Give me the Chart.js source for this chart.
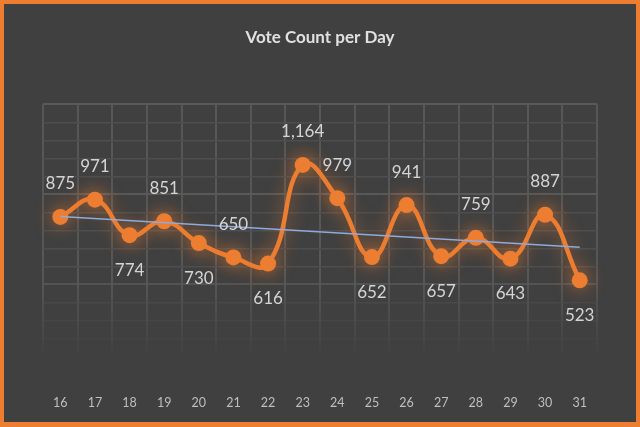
<!DOCTYPE html>
<html>
<head>
<meta charset="utf-8">
<script src="https://cdn.jsdelivr.net/npm/chart.js@4/dist/chart.umd.min.js"></script>
<style>
    html, body { margin: 0; padding: 0; background: #404040; }
    #frame {
        width: 632px; height: 418px;
        border: 4px solid #ed7d31; border-bottom-width: 5px;
        background: #404040;
    }
</style>
</head>
<body>
<div id="frame"><canvas id="chart1" width="632" height="418"></canvas></div>
<script>
// Dias e votos
const dias = ['16', '17', '18', '19', '20', '21', '22', '23', '24', '25', '26', '27', '28', '29', '30', '31'];
const votos = [875, 971, 774, 851, 730, 650, 616, 1164, 979, 652, 941, 657, 759, 643, 887, 523];
// linha de tendência: só início e fim
const tendencia = [878, null, null, null, null, null, null, null, null, null, null, null, null, null, null, 706];
// lado do rótulo de cada ponto (acima / abaixo)
const ladoRotulo = ['up', 'up', 'down', 'up', 'down', 'up', 'down', 'up', 'up', 'down', 'up', 'down', 'up', 'down', 'up', 'down'];

const laranja = '#ed7d31';

// brilho laranja em volta da linha principal
const glowPlugin = {
    id: 'glow',
    beforeDatasetDraw(chart, args) {
        if (args.index !== 1) return;
        chart.ctx.save();
        chart.ctx.shadowColor = 'rgba(237, 125, 49, 0.7)';
        chart.ctx.shadowBlur = 18;
    },
    afterDatasetDraw(chart, args) {
        if (args.index !== 1) return;
        chart.ctx.restore();
    }
};

// rótulos de valor
const rotulosPlugin = {
    id: 'rotulos',
    afterDatasetsDraw(chart) {
        const ctx = chart.ctx;
        const meta = chart.getDatasetMeta(1);
        ctx.save();
        ctx.font = '17px Lato, "Open Sans", sans-serif';
        ctx.fillStyle = '#d4d4d4';
        ctx.textAlign = 'center';
        ctx.textBaseline = 'middle';
        meta.data.forEach(function (pt, i) {
            const dy = ladoRotulo[i] === 'up' ? -33 : 35;
            ctx.fillText(votos[i].toLocaleString('en-US'), pt.x, pt.y + dy);
        });
        ctx.restore();
    }
};

const ctx = document.getElementById('chart1').getContext('2d');

function gradVertical(chart, cor) {
    const area = chart.chartArea;
    if (!area) return cor;
    const g = chart.ctx.createLinearGradient(0, area.top, 0, area.bottom);
    g.addColorStop(0, cor);
    g.addColorStop(0.65, cor);
    g.addColorStop(0.95, 'rgba(85, 85, 85, 0)');
    g.addColorStop(1, 'rgba(85, 85, 85, 0)');
    return g;
}

const chart = new Chart(ctx, {
    type: 'line',
    data: {
        labels: dias,
        datasets: [
            {
                label: 'Tendência',
                data: tendencia,
                borderColor: '#8faadc',
                borderWidth: 1.5,
                pointRadius: 0,
                spanGaps: true,
                tension: 0
            },
            {
                label: 'Votos',
                data: votos,
                borderColor: laranja,
                backgroundColor: laranja,
                borderWidth: 4.5,
                pointRadius: 8,
                pointBackgroundColor: laranja,
                pointBorderWidth: 0,
                tension: 0.45,
                cubicInterpolationMode: 'default'
            }
        ]
    },
    options: {
        responsive: false,
        animation: false,
        events: [],
        layout: { padding: { left: 39, right: 39, top: 0, bottom: 0 } },
        plugins: {
            legend: { display: false },
            tooltip: { enabled: false },
            title: {
                display: true,
                text: 'Vote Count per Day',
                color: '#e0e0e0',
                font: { family: 'Lato, "Open Sans", sans-serif', size: 17, weight: 'bold' },
                padding: { top: 23, bottom: 57 }
            }
        },
        scales: {
            x: {
                offset: true,
                border: { display: false },
                grid: {
                    offset: true,
                    drawTicks: false,
                    lineWidth: 2,
                    color: function (c) { return gradVertical(c.chart, '#575757'); }
                },
                ticks: {
                    color: '#bfbfbf',
                    padding: 21,
                    font: { family: 'Lato, "Open Sans", sans-serif', size: 12.5 }
                },
                afterFit: function (scale) { scale.height = 47.5; }
            },
            y: {
                min: 0,
                max: 1500,
                border: { display: false },
                grid: {
                    drawTicks: false,
                    lineWidth: function (c) { return c.tick && c.tick.value % 500 === 0 ? 2 : 1.5; },
                    color: function (c) {
                        const v = c.tick ? c.tick.value : 0;
                        const a = v >= 600 ? 1 : Math.max(0, (v - 80) / 520);
                        const base = v % 500 === 0 ? '89, 89, 89' : '78, 78, 78';
                        return 'rgba(' + base + ',' + a.toFixed(2) + ')';
                    }
                },
                ticks: { display: false, stepSize: 100 }
            }
        }
    },
    plugins: [glowPlugin, rotulosPlugin]
});
</script>
</body>
</html>
